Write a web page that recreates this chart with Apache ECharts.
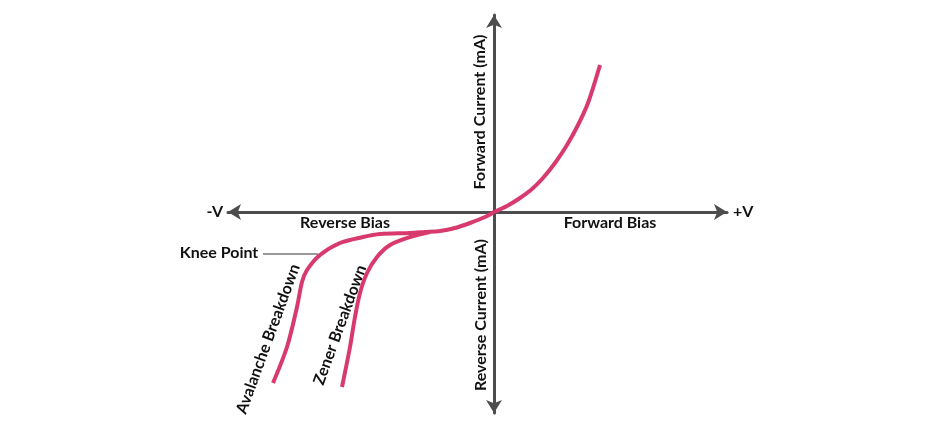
<!DOCTYPE html>
<html>
<head>
<meta charset="utf-8">
<script src="https://cdn.jsdelivr.net/npm/echarts@6/dist/echarts.min.js"></script>
<style>
  html, body { margin: 0; padding: 0; background: #fff; }
  #chart { width: 950px; height: 447px; }
</style>
</head>
<body>
<div id="chart"></div>
<script>
// voltage (arbitrary units) vs current (arbitrary units), origin at the axis cross
var forwardCurve = [
  [0, 0], [1.3, 0.6], [2.6, 1.4], [3.8, 2.3], [4.9, 3.4], [6.1, 4.9],
  [7.3, 6.7], [8.4, 8.7], [9.4, 10.9], [10.6, 14.7]
]
var reverseCommon = [
  [0, 0], [-0.9, -0.5], [-2.4, -1.1], [-3.9, -1.6], [-5.4, -1.9], [-6.9, -2.0], [-8.4, -2.1]
]
var avalancheCurve = [
  [-11.4, -2.2], [-13.1, -2.5], [-15.4, -3.1], [-17.4, -4.3], [-18.7, -5.8],
  [-19.2, -7.0], [-19.7, -9.5], [-20.7, -13.5], [-22.1, -17.1]
]
var zenerCurve = [
  [-6.4, -2.0], [-8.4, -2.5], [-10.4, -3.3], [-11.7, -4.5], [-12.7, -6.1],
  [-13.4, -8.1], [-13.9, -10.5], [-14.4, -13.5], [-15.2, -17.5]
]
var xRange = [-26.6, 23.3]
var yRange = [-20.1, 19.7]

var curveColor = '#d83a6d'
var axisColor = '#4d4d4d'
var font = 'Lato, "Open Sans", sans-serif'

function label (text, x, y, rot, align) {
  return {
    type: 'text',
    x: x,
    y: y,
    rotation: rot || 0,
    style: {
      text: text,
      fill: '#111',
      font: 'bold 16px ' + font,
      align: align || 'center',
      verticalAlign: 'middle'
    }
  }
}

function curve (data) {
  return {
    type: 'line',
    data: data,
    smooth: 0.3,
    symbol: 'none',
    lineStyle: { color: curveColor, width: 4 }
  }
}

var chart = echarts.init(document.getElementById('chart'))
var axisLine = {
  onZero: true,
  symbol: ['arrow', 'arrow'],
  symbolSize: [12, 13],
  lineStyle: { color: axisColor, width: 3 }
}
chart.setOption({
  backgroundColor: '#fff',
  animation: false,
  grid: { left: 228, right: 223, top: 15, bottom: 34 },
  xAxis: {
    type: 'value',
    min: xRange[0],
    max: xRange[1],
    axisLine: axisLine,
    axisTick: { show: false },
    axisLabel: { show: false },
    splitLine: { show: false }
  },
  yAxis: {
    type: 'value',
    min: yRange[0],
    max: yRange[1],
    axisLine: axisLine,
    axisTick: { show: false },
    axisLabel: { show: false },
    splitLine: { show: false }
  },
  series: [
    curve(forwardCurve),
    curve(reverseCommon.concat(avalancheCurve)),
    curve(zenerCurve)
  ],
  graphic: [
    label('-V', 223, 212, 0, 'right'),
    label('+V', 733, 212, 0, 'left'),
    label('Reverse Bias', 345, 223),
    label('Forward Bias', 610, 223),
    label('Forward Current (mA)', 480, 112, Math.PI / 2),
    label('Reverse Current (mA)', 481, 315, Math.PI / 2),
    label('Knee Point', 219, 253),
    label('Avalanche Breakdown', 268, 339, 1.22),
    label('Zener Breakdown', 340, 325, 1.22),
    {
      type: 'line',
      shape: { x1: 263, y1: 254, x2: 318, y2: 254 },
      style: { stroke: '#777', lineWidth: 1.5 }
    }
  ]
})
</script>
</body>
</html>
